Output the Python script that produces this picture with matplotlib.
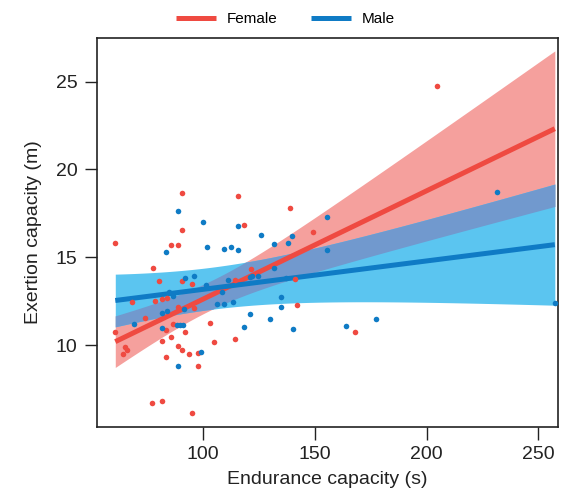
import matplotlib.pyplot as plt
from matplotlib.lines import Line2D
import numpy as np

plt.rcParams['font.family'] = ['Liberation Sans', 'DejaVu Sans']

# endurance (s), exertion (m)
female_x = [60.9, 60.9, 64.3, 65.3, 66.3, 68.2, 74.4, 77.6, 77.5, 78.6, 80.6, 81.7,
            81.7, 81.7, 83.8, 83.7, 83.6, 85.7, 85.7, 86.6, 88.8, 88.8, 88.8, 90.9,
            90.9, 90.9, 90.9, 92.1, 93.9, 95.1, 95.1, 96.1, 98.0, 98.0, 103.3, 105.2,
            114.5, 114.5, 115.6, 118.6, 121.5, 139.1, 141.1, 142.3, 149.4, 167.8, 204.8]
female_y = [15.79, 10.76, 9.49, 9.87, 9.69, 12.48, 11.52, 14.40, 6.68, 12.49, 13.66, 12.60,
            10.23, 6.83, 12.66, 10.84, 9.30, 15.69, 10.44, 11.19, 15.69, 12.18, 9.97, 18.64,
            16.57, 13.66, 9.73, 10.75, 9.49, 13.46, 6.14, 12.09, 9.53, 8.82, 11.26, 10.20,
            13.70, 10.33, 18.47, 16.83, 14.35, 17.78, 13.79, 12.26, 16.43, 10.74, 24.77]

male_x = [69.3, 81.7, 81.7, 83.6, 83.8, 84.7, 86.9, 88.3, 88.8, 88.8, 89.8, 91.2,
          91.8, 92.1, 96.1, 99.2, 100.1, 101.4, 102.1, 106.3, 108.4, 109.3, 109.4, 111.4,
          112.5, 113.4, 115.6, 115.6, 118.6, 120.9, 121.1, 121.9, 124.8, 125.8, 129.9, 132.0,
          132.0, 135.0, 135.0, 137.2, 138.1, 140.0, 140.2, 155.5, 155.5, 163.8, 177.2, 231.5,
          257.3]
male_y = [11.20, 11.80, 10.95, 15.31, 11.95, 13.04, 12.81, 11.12, 17.61, 8.82, 11.12, 11.12,
          12.05, 13.83, 13.95, 9.58, 17.02, 13.44, 15.58, 12.36, 13.04, 12.36, 15.45, 13.72,
          15.58, 12.47, 16.78, 15.42, 11.02, 11.76, 13.89, 13.93, 13.93, 16.27, 11.46, 15.75,
          14.37, 12.72, 12.18, 13.84, 15.79, 16.21, 10.91, 17.27, 15.39, 11.10, 11.49, 18.73,
          12.40]

# half-width of the 95% bands at three x positions
female_band_x = [60.9, 110, 257.3]
female_band_hw = [1.47, 0.85, 4.43]
male_band_x = [60.9, 117, 257.3]
male_band_hw = [1.50, 1.23, 3.45]

red = '#EF4A41'
blue = '#0F7BC5'
red_band = '#F5A09D'
blue_band = '#5BC5F0'
both_band = '#7199CE'


def fit_band(x, y, bx, bhw, grid):
    b, a = np.polyfit(x, y, 1)
    fit = a + b * grid
    # variance of a fitted line is quadratic in x
    var = np.polyfit(bx, np.asarray(bhw) ** 2, 2)
    hw = np.sqrt(np.polyval(var, grid))
    return fit, fit - hw, fit + hw


allx = female_x + male_x
grid = np.linspace(min(allx), max(allx), 200)
f_fit, f_lo, f_hi = fit_band(female_x, female_y, female_band_x, female_band_hw, grid)
m_fit, m_lo, m_hi = fit_band(male_x, male_y, male_band_x, male_band_hw, grid)

fig = plt.figure(figsize=(5.77, 5.0), dpi=100)
ax = fig.add_axes([0.1676, 0.1466, 0.799, 0.7768])

ax.fill_between(grid, f_lo, f_hi, color=red_band, lw=0)
ax.fill_between(grid, m_lo, m_hi, color=blue_band, lw=0)
ov_lo = np.maximum(f_lo, m_lo)
ov_hi = np.minimum(f_hi, m_hi)
ax.fill_between(grid, ov_lo, ov_hi, where=ov_hi > ov_lo, color=both_band, lw=0)

ax.plot(grid, f_fit, color=red, lw=3.6, solid_capstyle='butt')
ax.plot(grid, m_fit, color=blue, lw=3.6, solid_capstyle='butt')

ax.scatter(female_x, female_y, s=16, color=red, lw=0, zorder=3)
ax.scatter(male_x, male_y, s=16, color=blue, lw=0, zorder=3)

ax.set_xlim(52.6, 258.6)
ax.set_ylim(5.35, 27.47)
ax.set_xticks([100, 150, 200, 250])
ax.set_yticks([10, 15, 20, 25])
ax.tick_params(labelsize=14, length=9, width=1, pad=5, colors='#222222')
for sp in ax.spines.values():
    sp.set_linewidth(1.2)
    sp.set_color('#222222')
ax.set_xlabel('Endurance capacity (s)', fontsize=14, color='#222222', labelpad=6)
ax.set_ylabel('Exertion capacity (m)', fontsize=14, color='#222222', labelpad=10)

handles = [Line2D([], [], color=red, lw=3.6, solid_capstyle='butt'),
           Line2D([], [], color=blue, lw=3.6, solid_capstyle='butt')]
fig.legend(handles, ['Female', 'Male'], loc='center', bbox_to_anchor=(0.495, 0.962),
           ncol=2, frameon=False, fontsize=11, handlelength=2.6, columnspacing=2.2,
           handletextpad=0.7)

fig.savefig('out.png', dpi=100)
